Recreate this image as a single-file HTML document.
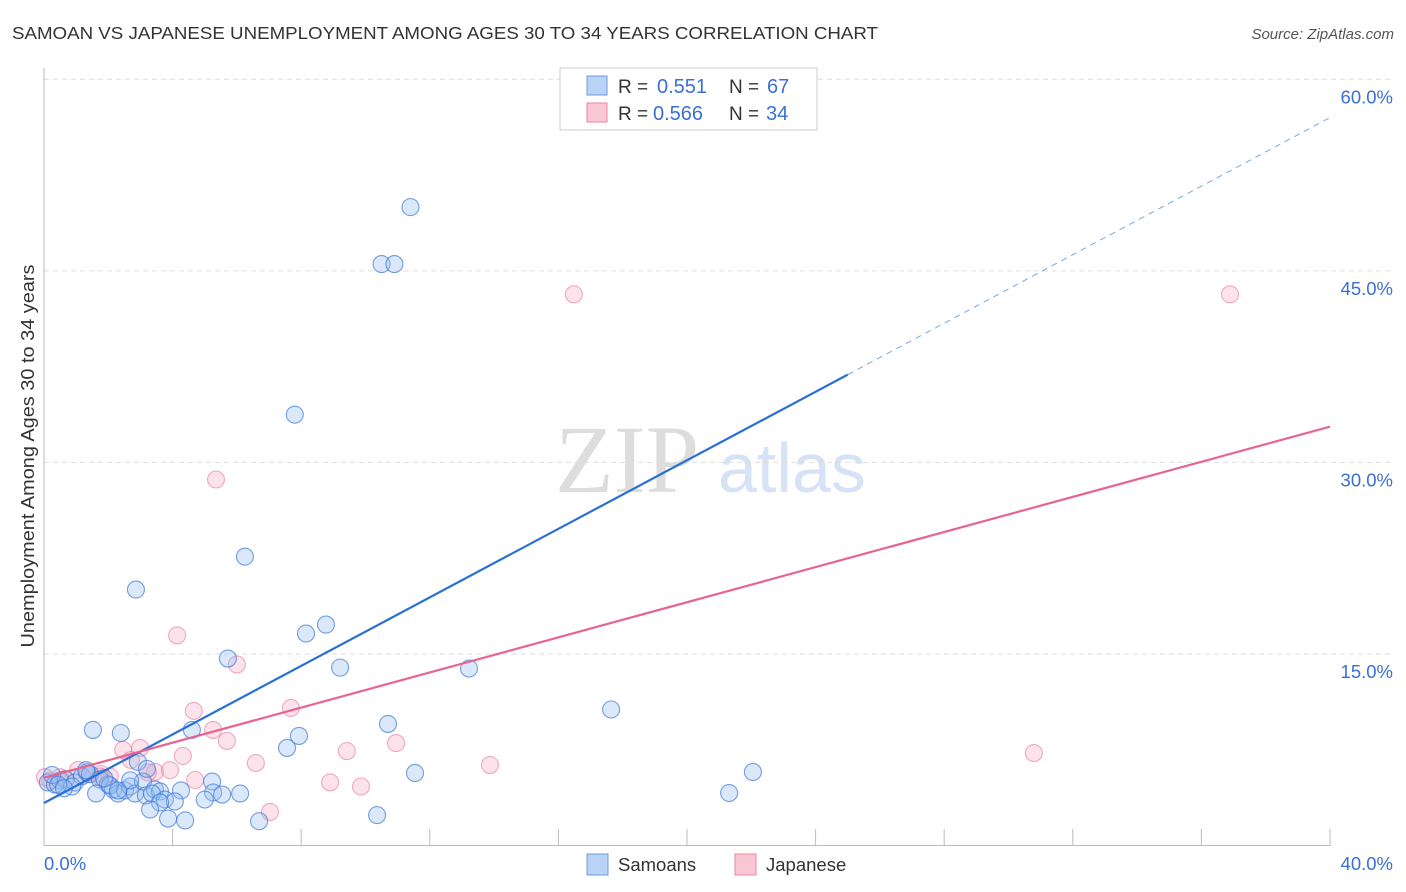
<!DOCTYPE html>
<html><head><meta charset="utf-8"><style>
body{margin:0;background:#fff;font-family:"Liberation Sans",sans-serif}
svg{display:block}
</style></head><body>
<svg id="chart" width="1406" height="892">
<text x="12" y="39" font-size="17.5" fill="#333" textLength="866" lengthAdjust="spacingAndGlyphs">SAMOAN VS JAPANESE UNEMPLOYMENT AMONG AGES 30 TO 34 YEARS CORRELATION CHART</text>
<text x="1394" y="39" font-size="15" fill="#555" font-style="italic" text-anchor="end">Source: ZipAtlas.com</text>
<text transform="translate(34,456) rotate(-90)" font-size="18" fill="#333" text-anchor="middle" textLength="383" lengthAdjust="spacingAndGlyphs">Unemployment Among Ages 30 to 34 years</text>
<text x="555" y="492" font-size="96" fill="#ddd" font-family="Liberation Serif,serif">ZIP</text>
<text x="718" y="492" font-size="70" fill="#d6e2f5">atlas</text>
<g id="grid"></g><g id="axes"></g><g id="pts"></g><g id="lines"></g>
<g>
<rect x="560" y="68" width="257" height="62" fill="#fff" stroke="#ccc"/>
<rect x="587" y="76" width="20" height="19" fill="#b8d3f5" stroke="#6c9be0"/>
<text x="618" y="93" font-size="19" fill="#333">R =</text>
<text x="657" y="93" font-size="20" fill="#3b6fd4">0.551</text>
<text x="729" y="93" font-size="19" fill="#333">N =</text>
<text x="767" y="93" font-size="20" fill="#3b6fd4">67</text>
<rect x="587" y="103" width="20" height="19" fill="#f9c6d5" stroke="#e58aa6"/>
<text x="618" y="120" font-size="19" fill="#333">R =</text>
<text x="653" y="120" font-size="20" fill="#3b6fd4">0.566</text>
<text x="729" y="120" font-size="19" fill="#333">N =</text>
<text x="766" y="120" font-size="20" fill="#3b6fd4">34</text>
</g>
<g>
<rect x="587" y="854" width="21" height="21" fill="#b8d3f5" stroke="#6c9be0"/>
<text x="618" y="871" font-size="18.5" fill="#333">Samoans</text>
<rect x="735" y="854" width="21" height="21" fill="#f9c6d5" stroke="#e58aa6"/>
<text x="766" y="871" font-size="18.5" fill="#333">Japanese</text>
</g>
</svg>
<script>
const yTicks=[15,30,45,60];
const samX=[11.4,10.5,10.9,7.8,6.25,2.86,8.77,8.15,5.72,9.21,13.22,17.64,1.52,2.39,4.6,10.7,7.93,7.56,2.92,11.54,22.05,21.31,0.12,0.34,0.5,0.68,0.96,1.18,1.34,1.43,1.74,1.99,2.15,2.3,2.52,2.68,2.83,3.08,3.17,3.45,3.61,4.26,5.23,5.26,5.54,6.1,5.0,0.87,1.62,2.05,2.3,3.36,3.76,4.07,3.61,3.3,3.86,4.39,6.69,10.36,0.25,0.44,0.62,1.31,1.87,2.68,3.2];
const samY=[49.99,45.53,45.53,33.74,22.62,20.04,17.3,16.6,14.64,13.93,13.86,10.65,9.05,8.81,9.05,9.52,8.58,7.64,6.55,5.68,5.76,4.11,4.94,4.78,5.09,5.17,4.94,5.42,5.73,5.58,5.17,4.78,4.39,4.07,4.31,4.62,4.07,5.01,3.92,4.39,4.23,4.31,5.01,4.15,3.99,4.07,3.6,4.62,4.07,4.7,4.31,4.07,3.6,3.45,3.37,2.82,2.11,1.96,1.9,2.38,5.52,4.76,4.48,5.9,5.26,5.1,6.0];
const japX=[16.48,36.89,5.35,4.14,6.0,4.66,7.68,5.26,5.69,2.99,2.46,9.42,10.95,30.79,6.59,4.32,13.87,2.7,1.77,1.06,0.5,0.19,0.03,3.45,3.92,8.9,9.86,7.03,2.05,1.37,0.65,4.7,3.23,1.74];
const japY=[43.16,43.16,28.66,16.45,14.18,10.54,10.77,9.05,8.19,7.64,7.48,7.39,8.02,7.24,6.46,7.01,6.3,6.7,5.6,5.92,5.35,5.09,5.35,5.76,5.9,4.94,4.62,2.63,5.4,5.6,5.2,5.13,5.72,5.4];
const samLine=[3.33,57.0], japLine=[5.3,32.8], samSolidEnd=25.0;
const X=v=>44+v*32.15, Y=v=>845.5-v*12.77;
const NS="http://www.w3.org/2000/svg";
function mk(p,t,a){const e=document.createElementNS(NS,t);for(const k in a)e.setAttribute(k,a[k]);p.appendChild(e);return e;}
const grid=document.getElementById('grid'),axes=document.getElementById('axes'),pts=document.getElementById('pts'),lines=document.getElementById('lines');
yTicks.forEach(t=>{
 const l=mk(grid,'line',{x1:44,x2:1394,y1:Y(t),y2:Y(t),stroke:'#ddd','stroke-dasharray':'5,4'});
 
 
 const tx=mk(grid,'text',{x:1393,y:Y(t)+24,'font-size':18.5,fill:'#3b6fd4','text-anchor':'end'});
 tx.textContent=t.toFixed(1)+'%';
 
 
});
mk(axes,'line',{x1:44,x2:44,y1:68,y2:846,stroke:'#bbb'});
mk(axes,'line',{x1:44,x2:1330,y1:845.5,y2:845.5,stroke:'#bbb'});
for(let i=1;i<=10;i++){mk(axes,'line',{x1:X(i*4),x2:X(i*4),y1:829,y2:846,stroke:'#bbb'});}
const x0=mk(axes,'text',{x:44,y:870,'font-size':18.5,fill:'#3b6fd4'});x0.textContent='0.0%';


const x1=mk(axes,'text',{x:1393,y:870,'font-size':18.5,fill:'#3b6fd4','text-anchor':'end'});x1.textContent='40.0%';


japX.forEach((v,i)=>{const c=mk(pts,'circle',{cx:X(v),cy:Y(japY[i]),r:8.5,fill:'rgba(244,160,188,0.3)',stroke:'rgba(230,120,155,0.6)','stroke-width':1.1});
 
 });
samX.forEach((v,i)=>{const c=mk(pts,'circle',{cx:X(v),cy:Y(samY[i]),r:8.5,fill:'rgba(150,190,240,0.35)',stroke:'rgba(60,120,215,0.7)','stroke-width':1.1});
 
 });
const sy=x=>samLine[0]+(samLine[1]-samLine[0])*x/40, jy=x=>japLine[0]+(japLine[1]-japLine[0])*x/40;
let l=mk(lines,'line',{x1:X(0),y1:Y(sy(0)),x2:X(samSolidEnd),y2:Y(sy(samSolidEnd)),stroke:'#2a6fd6','stroke-width':2.2});


l=mk(lines,'line',{x1:X(samSolidEnd),y1:Y(sy(samSolidEnd)),x2:X(40),y2:Y(sy(40)),stroke:'#7aa6e6','stroke-width':1,'stroke-dasharray':'6,5'});


l=mk(lines,'line',{x1:X(0),y1:Y(jy(0)),x2:X(40),y2:Y(jy(40)),stroke:'#e8648f','stroke-width':2.2});


</script>
</body></html>
